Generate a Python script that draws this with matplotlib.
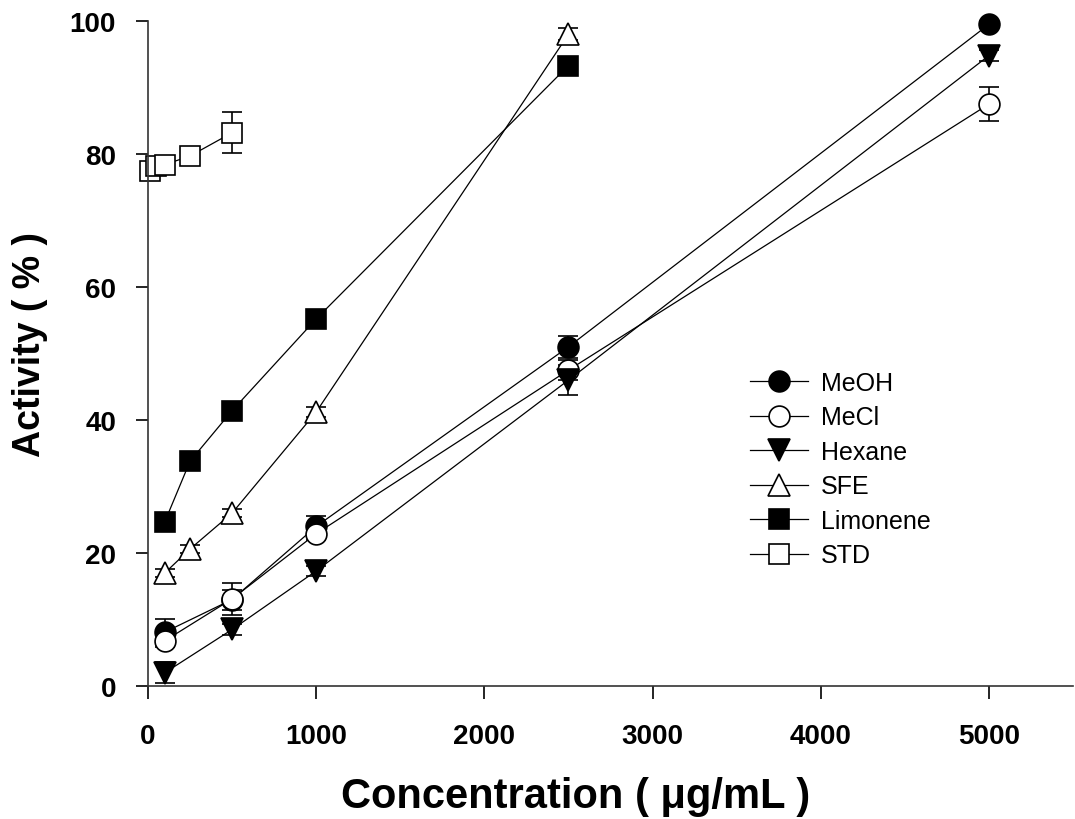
import matplotlib
matplotlib.use("Agg")
import matplotlib.pyplot as plt
from matplotlib.lines import Line2D

plt.rcParams['font.family'] = ['Liberation Sans', 'DejaVu Sans']

meoh_x = [100, 500, 1000, 2500, 5000]
meoh_y = [8.1, 13.0, 24.0, 51.0, 99.5]
meoh_e = [2.0, 1.5, 1.6, 1.7, 0.5]

mecl_x = [100, 500, 1000, 2500, 5000]
mecl_y = [6.8, 13.1, 22.9, 47.5, 87.5]
mecl_e = [1.0, 2.4, 1.0, 1.5, 2.6]

hex_x = [100, 500, 1000, 2500, 5000]
hex_y = [2.0, 8.5, 17.3, 46.0, 94.8]
hex_e = [1.6, 0.8, 0.8, 2.2, 0.8]

sfe_x = [100, 250, 500, 1000, 2500]
sfe_y = [17.0, 20.6, 26.0, 41.2, 98.0]
sfe_e = [0.6, 0.6, 0.6, 0.8, 0.9]

lim_x = [100, 250, 500, 1000, 2500]
lim_y = [24.7, 33.8, 41.4, 55.2, 93.3]
lim_e = [0.5, 0.5, 0.5, 0.5, 0.5]

std_x = [10, 50, 100, 250, 500]
std_y = [77.5, 78.2, 78.4, 79.7, 83.2]
std_e = [1.0, 0.5, 0.5, 0.5, 3.1]

series = [
    ("MeOH", meoh_x, meoh_y, meoh_e, 'o', 'black'),
    ("MeCl", mecl_x, mecl_y, mecl_e, 'o', 'white'),
    ("Hexane", hex_x, hex_y, hex_e, 'v', 'black'),
    ("SFE", sfe_x, sfe_y, sfe_e, '^', 'white'),
    ("Limonene", lim_x, lim_y, lim_e, 's', 'black'),
    ("STD", std_x, std_y, std_e, 's', 'white'),
]

fig = plt.figure(figsize=(10.75, 8.2), dpi=100)
ax = fig.add_axes([148/1075, 133/820, (1073-148)/1075, (687-22)/820])

handles = []
for name, x, y, e, m, fc in series:
    ms = 15 if m == 'o' else (14.5 if m == 's' else 16)
    cont = ax.errorbar(x, y, yerr=e, fmt='-', color='black', lw=0.9, elinewidth=1.2,
                       capsize=7, capthick=1.2, marker=m, markersize=ms,
                       markerfacecolor=fc, markeredgecolor='black', markeredgewidth=1.2)
    for art in [cont.lines[0]] + list(cont.lines[1]) + list(cont.lines[2]):
        art.set_clip_on(False)
    handles.append(Line2D([], [], color='black', lw=0.9, marker=m, markersize=ms,
                          markerfacecolor=fc, markeredgecolor='black',
                          markeredgewidth=1.2, label=name))

ax.set_xlim(0, 5500)
ax.set_ylim(0, 100)
ax.set_xticks([0, 1000, 2000, 3000, 4000, 5000])
ax.set_yticks([0, 20, 40, 60, 80, 100])
for s in ('top', 'right'):
    ax.spines[s].set_visible(False)
for s in ('left', 'bottom'):
    ax.spines[s].set_linewidth(1.2)
    ax.spines[s].set_color('#333333')
ax.tick_params(direction='out', length=9, width=1.2, labelsize=20)
ax.tick_params(axis='x', pad=18)
ax.tick_params(axis='y', pad=14)
for lbl in ax.get_xticklabels() + ax.get_yticklabels():
    lbl.set_fontweight('bold')

ax.set_xlabel('Concentration ( \u03bcg/mL )', fontsize=30, fontweight='bold')
ax.xaxis.set_label_coords((576-148)/925, -(797-687)/665, transform=ax.transAxes)
ax.xaxis.label.set_va('center')
ax.set_ylabel('Activity ( % )', fontsize=27, fontweight='bold')
ax.yaxis.set_label_coords(-(148-30)/925, (687-345)/665, transform=ax.transAxes)
ax.yaxis.label.set_va('center')

leg = ax.legend(handles=handles, loc='upper left',
                bbox_to_anchor=((750-148)/925, (687-372)/665),
                frameon=False, fontsize=18, handlelength=2.3, handletextpad=0.55,
                labelspacing=0.42, borderaxespad=0, borderpad=0)

fig.savefig('out.png', dpi=100)
